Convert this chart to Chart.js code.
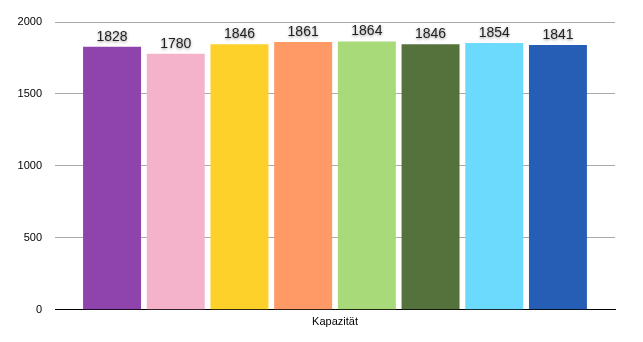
<!DOCTYPE html>
<html>
<head>
<meta charset="utf-8">
<script src="https://cdn.jsdelivr.net/npm/chart.js@4"></script>
<style>
  html, body { margin: 0; padding: 0; background: #ffffff; }
  #wrap { width: 643px; height: 342px; }
</style>
</head>
<body>
<div id="wrap"><canvas id="capacity_chart"></canvas></div>
<script>
const categories = ['Kapazität'];
const series_names = ['Serie 1', 'Serie 2', 'Serie 3', 'Serie 4', 'Serie 5', 'Serie 6', 'Serie 7', 'Serie 8'];
const series_values = [1828, 1780, 1846, 1861, 1864, 1846, 1854, 1841];
const series_colors = ['#8e43ad', '#f5b3cb', '#fdd02a', '#ff9966', '#a8da7a', '#55723c', '#6bdafc', '#265eb6'];
const y_ticks = [0, 500, 1000, 1500, 2000];

const value_labels = {
    id: 'value_labels',
    afterDatasetsDraw(chart) {
        const ctx = chart.ctx;
        ctx.save();
        ctx.font = '14px "Liberation Sans", Arial, sans-serif';
        ctx.fillStyle = '#222222';
        ctx.textAlign = 'center';
        ctx.textBaseline = 'bottom';
        ctx.shadowColor = 'rgba(0,0,0,0.45)';
        ctx.shadowBlur = 3;
        ctx.shadowOffsetY = 1;
        chart.data.datasets.forEach((ds, i) => {
            const bar = chart.getDatasetMeta(i).data[0];
            ctx.fillText(String(ds.data[0]), bar.x, bar.y - 3);
        });
        ctx.restore();
    }
};

const datasets = series_values.map((v, i) => ({
    label: series_names[i],
    data: [v],
    backgroundColor: series_colors[i],
    borderWidth: 0,
    categoryPercentage: 0.91,
    barPercentage: 0.91
}));

new Chart(document.getElementById('capacity_chart'), {
    type: 'bar',
    data: {
        labels: categories,
        datasets: datasets
    },
    options: {
        responsive: true,
        maintainAspectRatio: false,
        animation: false,
        devicePixelRatio: 1,
        layout: {
            padding: { top: 22, right: 28, left: 0, bottom: 7 }
        },
        plugins: {
            legend: false,
            tooltip: { enabled: false }
        },
        scales: {
            x: {
                grid: { display: false, drawTicks: false },
                border: { display: true, color: '#000000', width: 1 },
                ticks: {
                    color: '#000000',
                    padding: 6,
                    font: { family: '"Liberation Sans", Arial, sans-serif', size: 11 }
                }
            },
            y: {
                min: 0,
                max: 2000,
                afterFit(scale) { scale.width = 55; },
                afterBuildTicks(scale) { scale.ticks = y_ticks.map(v => ({ value: v })); },
                grid: { color: '#aaaaaa', lineWidth: 1, drawTicks: false },
                border: { display: false },
                ticks: {
                    color: '#000000',
                    padding: 13,
                    font: { family: '"Liberation Sans", Arial, sans-serif', size: 11 },
                    callback: (value) => String(value)
                }
            }
        }
    },
    plugins: [value_labels]
});
</script>
</body>
</html>
